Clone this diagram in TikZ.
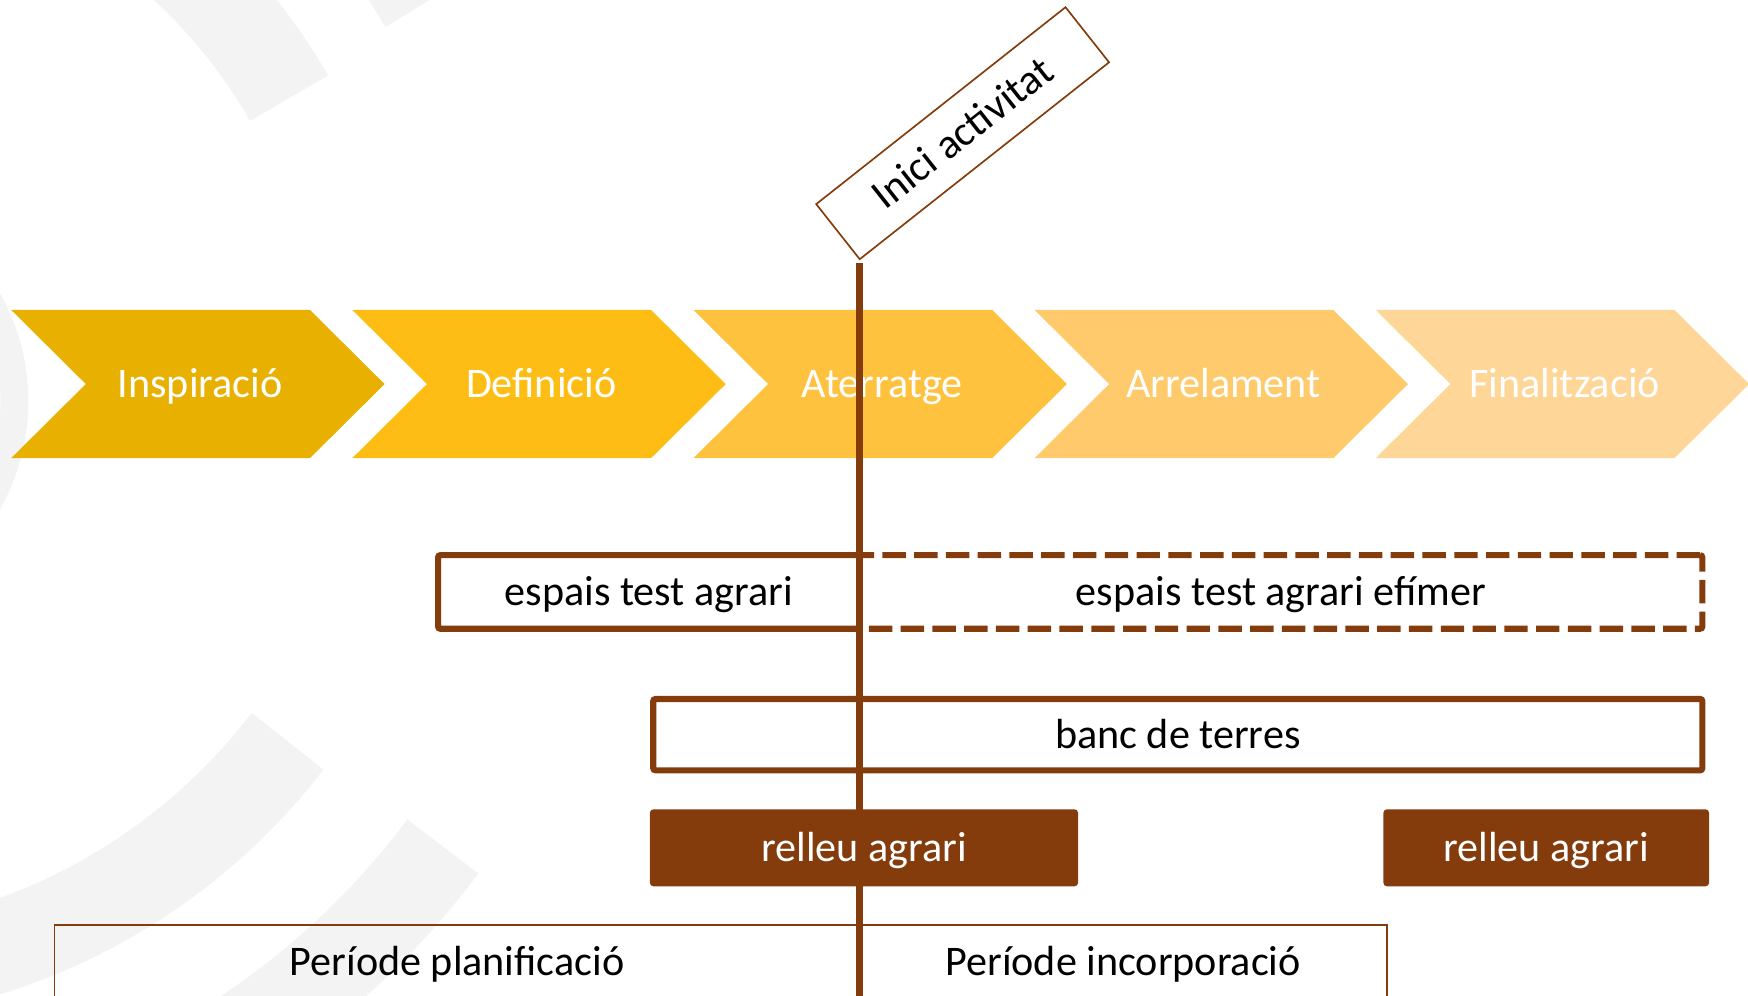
\documentclass[tikz,border=0pt]{standalone}
\usepackage{fontspec}
\setmainfont{Carlito}
\definecolor{terra}{HTML}{843C0C}
\definecolor{ombra}{RGB}{243,243,243}
\definecolor{cinsp}{HTML}{E8B000}
\definecolor{cdefi}{HTML}{FDBD14}
\definecolor{cater}{HTML}{FFC23F}
\definecolor{carre}{HTML}{FFCA6B}
\definecolor{cfina}{HTML}{FED697}
\begin{document}
\begin{tikzpicture}[x=1pt, y=-1pt, font=\fontsize{37.8}{45}\selectfont,
  fase/.style={text=white, inner sep=0pt, text height=24pt, text depth=0pt},
  caixa/.style={draw=terra, line width=5.5pt, rounded corners=2pt, inner sep=0pt, text height=24pt, text depth=0pt},
  relleu/.style={fill=terra, text=white, rounded corners=3pt, inner sep=0pt, minimum height=69pt, text height=24pt, text depth=0pt},
  periode/.style={draw=terra, line width=1.5pt, inner sep=0pt, minimum height=66pt, text height=24pt, text depth=0pt},
  anella/.style={draw=ombra}]
\useasboundingbox (0,0) rectangle (1568,893);
\draw[anella, line width=81pt] plot[domain=29.8:56, samples=30] ({-172+497*cos(\x)},{335-497*sin(\x)});
\draw[anella, line width=56pt] plot[domain=31:45, samples=20] ({-172+632*cos(\x)},{335-632*sin(\x)});
\draw[anella, line width=82pt] plot[domain=-37.5:-85, samples=30] ({-172+542*cos(\x)},{335-542*sin(\x)});
\draw[anella, line width=80pt] plot[domain=-36.7:-75, samples=30] ({-172+710*cos(\x)},{335-710*sin(\x)});
\draw[anella, line width=25pt] plot[domain=-60:60, samples=30] ({-172+185*cos(\x)},{360-185*sin(\x)});
\fill[cinsp] (10,278) -- (278,278) -- (345,344.5) -- (278,411) -- (10,411) -- (77,344.5) -- cycle;
\node[fase] (insp) at (179.5,344.5) {Inspiració};
\fill[cdefi] (316,278) -- (584,278) -- (651,344.5) -- (584,411) -- (316,411) -- (383,344.5) -- cycle;
\node[fase] (defi) at (485.5,344.5) {Definició};
\fill[cater] (622,278) -- (890,278) -- (957,344.5) -- (890,411) -- (622,411) -- (689,344.5) -- cycle;
\node[fase] (ater) at (791.5,344.5) {Aterratge};
\fill[carre] (928,278) -- (1196,278) -- (1263,344.5) -- (1196,411) -- (928,411) -- (995,344.5) -- cycle;
\node[fase] (arre) at (1097.5,344.5) {Arrelament};
\fill[cfina] (1234,278) -- (1502,278) -- (1569,344.5) -- (1502,411) -- (1234,411) -- (1301,344.5) -- cycle;
\node[fase] (fina) at (1403.5,344.5) {Finalització};
\node[caixa, minimum width=378pt, minimum height=66pt] (espais) at (582,531) {espais test agrari};
\node[caixa, dash pattern=on 21pt off 7.5pt, minimum width=756pt, minimum height=66pt] (efimer) at (1149,531) {espais test agrari efímer};
\node[caixa, minimum width=941pt, minimum height=64pt] (banc) at (1056.5,659) {banc de terres};
\node[periode, minimum width=722pt] (planif) at (410,863) {Període planificació};
\node[periode, minimum width=473pt] (incorp) at (1007.5,863) {Període incorporació};
\node[draw=terra, line width=1.5pt, fill=white, rotate=38.3, minimum width=285pt, minimum height=63pt, inner sep=0pt, text height=24pt, text depth=0pt] (inici) at (863.5,119.5) {Inici activitat};
\coordinate (dalt) at (771,236);
\coordinate (peu) at (771,900);
\draw[terra, line width=6pt] (dalt) -- (peu);
\node[relleu, minimum width=384pt] (relleu1) at (775,760.5) {relleu agrari};
\node[relleu, minimum width=292pt] (relleu2) at (1387,760.5) {relleu agrari};
\end{tikzpicture}
\end{document}
